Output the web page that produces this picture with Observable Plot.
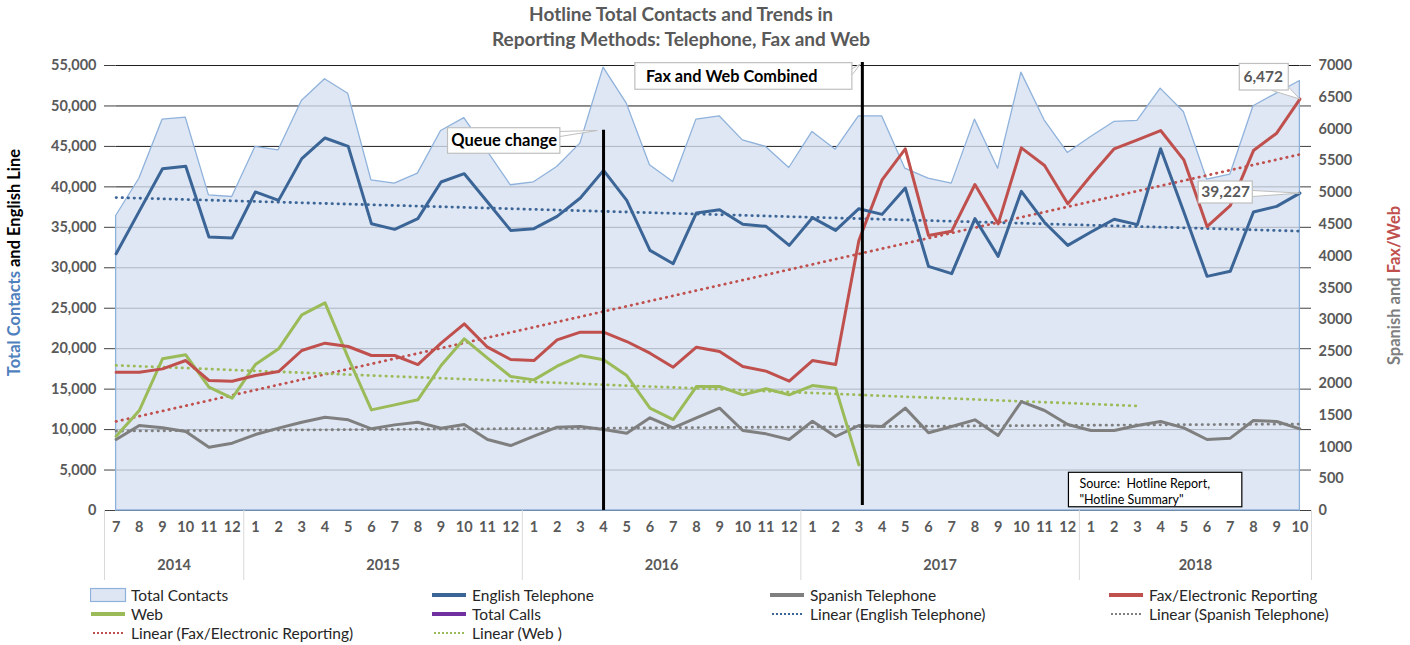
<!DOCTYPE html>
<html>
<head>
<meta charset="utf-8">
<script src="https://cdn.jsdelivr.net/npm/d3@7"></script>
<script src="https://cdn.jsdelivr.net/npm/@observablehq/plot@0.6"></script>
<style>
  html, body { margin: 0; padding: 0; background: #fff; }
  #wrap { width: 1410px; height: 645px; overflow: hidden; position: relative; font-family: Lato, "Open Sans", sans-serif; }
  #title { width: 1410px; height: 56px; box-sizing: border-box; padding: 1px 48px 0 0; text-align: center;
           font-weight: bold; font-size: 19px; line-height: 25px; color: #595959; }
  #chart svg { display: block; }
  #legend { position: relative; width: 1410px; height: 59px; }
  .li { position: absolute; display: flex; align-items: center; font-size: 15.5px; color: #262626; white-space: nowrap; }
  .li svg { margin-right: 4px; }
</style>
</head>
<body>
<div id="wrap">
  <div id="title">Hotline Total Contacts and Trends in<br>Reporting Methods: Telephone, Fax and Web</div>
  <div id="chart"></div>
  <div id="legend"></div>
</div>
<script>
// ---------- data (month index 0 = July 2014 ... 51 = October 2018) ----------
const months = [7,8,9,10,11,12, 1,2,3,4,5,6,7,8,9,10,11,12, 1,2,3,4,5,6,7,8,9,10,11,12, 1,2,3,4,5,6,7,8,9,10,11,12, 1,2,3,4,5,6,7,8,9,10];
const years = ["2014","2015","2016","2017","2018"];
const yearStart = [0, 6, 18, 30, 42];
const yearEnd   = [5, 17, 29, 41, 51];

// left axis (Total Contacts / English line)
const totalContacts = [36400, 41000, 48300, 48560, 38950, 38750, 44930, 44520, 50620, 53300,
  51500, 40800, 40400, 41630, 46900, 48500, 44400, 40200, 40560, 42460,
  45340, 54740, 50290, 42660, 40600, 48310, 48720, 45750, 44930, 42330,
  46790, 44600, 48720, 48720, 42250, 41010, 40400, 48310, 42250, 54120,
  48230, 44190, 46170, 48020, 48150, 52140, 49260, 40900, 41500, 49960, 51530, 53090];
const englishTelephone = [31740, 37000, 42250, 42540, 33800, 33680, 39370, 38330, 43490, 46040,
  45010, 35450, 34750, 36070, 40600, 41630, 38130, 34620, 34830, 36360,
  38620, 42040, 38330, 32150, 30500, 36770, 37180, 35370, 35120, 32770,
  36190, 34620, 37300, 36600, 39860, 30170, 29270, 36070, 31410, 39450,
  35600, 32770, 34420, 35990, 35330, 44720, 36900, 28940, 29560, 36890, 37590, 39227];
// right axis (Spanish / Fax / Web)
const spanishTelephone = [1117, 1337, 1300, 1243, 996, 1059, 1195, 1295, 1389, 1468,
  1426, 1285, 1347, 1389, 1295, 1353, 1117, 1022, 1169, 1311,
  1321, 1274, 1216, 1458, 1300, 1458, 1610, 1258, 1206, 1117,
  1405, 1164, 1337, 1321, 1610, 1222, 1321, 1426, 1180, 1714,
  1573, 1353, 1258, 1258, 1337, 1400, 1300, 1117, 1138, 1416, 1400, 1285];
const faxElectronic = [2176, 2176, 2228, 2359, 2045, 2034, 2123, 2186, 2517, 2632,
  2580, 2438, 2438, 2296, 2632, 2936, 2569, 2375, 2359, 2684,
  2805, 2805, 2658, 2475, 2254, 2569, 2501, 2265, 2192, 2034,
  2359, 2296, 4247, 5201, 5689, 4326, 4394, 5128, 4509, 5704,
  5427, 4824, 5269, 5689, 5830, 5977, 5516, 4467, 4797, 5662, 5935, 6472];
const web = [1169, 1573, 2386, 2449, 1940, 1767, 2296, 2543, 3078, 3266,
  2400, 1583, 1662, 1741, 2281, 2700, 2396, 2108, 2055, 2270,
  2438, 2370, 2123, 1610, 1431, 1950, 1950, 1819, 1914, 1819,
  1966, 1924, 718];

const leftTicks = d3.range(0, 55001, 5000);
const rightTicks = d3.range(0, 7001, 500);
const webTrendEnd = 44;   // Excel forecast forward 12 periods

// annotations
const queueMonth = 21, queueTop = 47000;
const faxWebMonth = 32.15, faxWebTop = 55370;
const sourceText = "Source:  Hotline Report,\n\"Hotline Summary\"";

// ---------- colours ----------
const EN = "#3c6597", ES = "#7f7f7f", FX = "#c0504d", WB = "#9bbb59", TC = "#7030a0";
const FONT = "Lato, 'Open Sans', sans-serif";

// ---------- derived tables ----------
const k = 55000 / 7000; // right-axis unit -> left-axis unit
const idx = d3.range(months.length);
const rows = idx.map(i => ({i, total: totalContacts[i], english: englishTelephone[i],
  spanish: spanishTelephone[i] * k, fax: faxElectronic[i] * k}));
const webRows = web.map((v, i) => ({i, web: v * k}));

function fit(vals) {
  const xs = d3.range(vals.length);
  const mx = d3.mean(xs), my = d3.mean(vals);
  const b = d3.sum(xs, (x, j) => (x - mx) * (vals[j] - my)) / d3.sum(xs, x => (x - mx) ** 2);
  return x => my + b * (x - mx);
}
function trend(vals, end, scale) {
  const f = fit(vals);
  return [{i: 0, v: f(0) * scale}, {i: end, v: f(end) * scale}];
}
const last = idx.length - 1;
const trendEN = trend(englishTelephone, last, 1);
const trendES = trend(spanishTelephone, last, k);
const trendFX = trend(faxElectronic, last, k);
const trendWB = trend(web, webTrendEnd, k);

const yearCenters = years.map((y, j) => (yearStart[j] + yearEnd[j]) / 2);
const yearBounds = [yearStart[0] - 0.5, ...yearEnd.map(e => e + 0.5)];

const boxes = [
  {x1: 14.30, x2: 19.14, y1: 44090, y2: 47250, stroke: "#bfbfbf"},
  {x1: 22.37, x2: 31.72, y1: 52000, y2: 55290, stroke: "#bfbfbf"},
  {x1: 48.41, x2: 50.52, y1: 51910, y2: 55190, stroke: "#bfbfbf"},
  {x1: 46.64, x2: 48.97, y1: 37945, y2: 40660, stroke: "#bfbfbf"},
  {x1: 41.05, x2: 48.52, y1: 400, y2: 4660, stroke: "#000"}
];
const tails = [
  [{x: 19.14, y: 46850}, {x: 20.73, y: 46970}, {x: 19.14, y: 46230}],
  [{x: 31.72, y: 54630}, {x: 32.07, y: 55190}, {x: 31.72, y: 53890}],
  [{x: 49.8, y: 51910}, {x: 51, y: faxElectronic[last] * k}, {x: 50.52, y: 52300}],
  [{x: 48.97, y: 39550}, {x: 51, y: englishTelephone[last]}, {x: 48.97, y: 38810}]
];

const lineOpts = {x: "i", strokeWidth: 3, strokeLinejoin: "round", strokeLinecap: "round"};
const dotOpts = {x: "i", y: "v", strokeWidth: 2.8, strokeDasharray: "0.4 5.6", strokeLinecap: "round"};

const chart = Plot.plot({
  width: 1410, height: 530,
  marginTop: 9, marginBottom: 76, marginLeft: 104, marginRight: 99,
  x: {type: "linear", domain: [-0.5, 51.5], axis: null},
  y: {domain: [0, 55000], axis: null},
  style: {fontFamily: FONT, fontSize: "14px", color: "#595959", background: "white", overflow: "visible"},
  marks: [
    // gridlines + tick marks
    Plot.ruleY(leftTicks, {x1: 0, x2: last, stroke: "#1e1e1e", strokeWidth: 1}),
    Plot.ruleY(leftTicks, {x1: -0.5, x2: 0, stroke: "#404040", strokeWidth: 1}),
    Plot.ruleY(leftTicks, {x1: last, x2: 51.5, stroke: "#404040", strokeWidth: 1}),
    // total contacts area
    Plot.areaY(rows, {x: "i", y: "total", fill: "rgb(213,224,239)", fillOpacity: 0.78,
      stroke: "#8fb2dc", strokeWidth: 1.3}),
    // trend lines
    Plot.line(trendEN, {...dotOpts, stroke: EN}),
    Plot.line(trendES, {...dotOpts, stroke: ES}),
    Plot.line(trendFX, {...dotOpts, stroke: FX}),
    Plot.line(trendWB, {...dotOpts, stroke: WB}),
    // series
    Plot.line(rows, {...lineOpts, y: "spanish", stroke: ES}),
    Plot.line(webRows, {...lineOpts, y: "web", stroke: WB}),
    Plot.line(rows, {...lineOpts, y: "fax", stroke: FX}),
    Plot.line(rows, {...lineOpts, y: "english", stroke: EN}),
    // event lines
    Plot.ruleX([queueMonth], {y1: 0, y2: queueTop, stroke: "#000", strokeWidth: 3}),
    Plot.ruleX([faxWebMonth], {y1: 620, y2: faxWebTop, stroke: "#000", strokeWidth: 3}),
    // callouts
    ...tails.map(t => Plot.line(t, {x: "x", y: "y", stroke: "#bfbfbf", strokeWidth: 1, fill: "white"})),
    Plot.rect(boxes, {x1: "x1", x2: "x2", y1: "y1", y2: "y2", fill: "white", stroke: "stroke", strokeWidth: 1.2}),
    Plot.text(["Queue change"], {x: 16.72, y: 45670, text: d => d, fontWeight: "bold", fontSize: 16.5, fill: "#000"}),
    Plot.text(["Fax and Web Combined"], {x: 22.83, y: 53640, text: d => d, textAnchor: "start", fontWeight: "bold", fontSize: 16.3, fill: "#000"}),
    Plot.text([faxElectronic[last]], {x: 49.42, y: 53520, text: d => d3.format(",")(d), fontWeight: "bold", fontSize: 15.5, fill: "#595959"}),
    Plot.text([englishTelephone[last]], {x: 47.8, y: 39300, text: d => d3.format(",")(d), fontWeight: "bold", fontSize: 15.5, fill: "#595959"}),
    Plot.text([sourceText], {x: 41.5, y: 2472, text: d => d, textAnchor: "start", fontSize: 12.5, lineHeight: 1.33, fill: "#000"}),
    // category axis
    Plot.ruleX(yearBounds, {y1: 0, y2: -8650, stroke: "#d9d9d9", strokeWidth: 1}),
    Plot.axisX(idx, {anchor: "bottom", tickSize: 0, tickPadding: 11, tickFormat: i => months[i],
      fontWeight: "bold", fontSize: 14.5, fill: "#595959", label: null}),
    Plot.axisX(yearCenters, {anchor: "bottom", tickSize: 0, tickPadding: 49,
      tickFormat: d => years[yearCenters.indexOf(d)], fontWeight: "bold", fontSize: 14.5, fill: "#595959", label: null}),
    // value axes
    Plot.axisY(leftTicks, {anchor: "left", tickSize: 0, tickPadding: 8, tickFormat: d3.format(","),
      fontWeight: "bold", fontSize: 14.5, fill: "#595959", label: null}),
    Plot.axisY(rightTicks.map(v => v * k), {anchor: "right", tickSize: 0, tickPadding: 7,
      tickFormat: d => String(Math.round(d / k)), fontWeight: "bold", fontSize: 14.5, fill: "#595959", label: null})
  ]
});
document.getElementById("chart").appendChild(chart);

// axis titles (multi-coloured)
const Y = chart.scale("y");
const svg = d3.select(chart);
const midY = (Y.apply(0) + Y.apply(55000)) / 2;
const lt = svg.append("text").attr("transform", `translate(16,${midY - 25}) rotate(-90)`)
  .attr("text-anchor", "middle").attr("dominant-baseline", "middle")
  .attr("font-family", FONT).attr("font-weight", "bold").attr("font-size", 16.5);
lt.append("tspan").attr("fill", "#4f81bd").text("Total Contacts ");
lt.append("tspan").attr("fill", "#000").text("and English Line");
const rt = svg.append("text").attr("transform", `translate(1396,${midY - 2}) rotate(-90)`)
  .attr("text-anchor", "middle").attr("dominant-baseline", "middle")
  .attr("font-family", FONT).attr("font-weight", "bold").attr("font-size", 16.5);
rt.append("tspan").attr("fill", "#7f7f7f").text("Spanish and ");
rt.append("tspan").attr("fill", FX).text("Fax/Web");

// ---------- legend ----------
const legendItems = [
  {label: "Total Contacts", type: "area", color: "rgb(221,230,242)", stroke: "#8fb2dc"},
  {label: "English Telephone", type: "line", color: EN},
  {label: "Spanish Telephone", type: "line", color: ES},
  {label: "Fax/Electronic Reporting", type: "line", color: FX},
  {label: "Web", type: "line", color: WB},
  {label: "Total Calls", type: "line", color: TC},
  {label: "Linear (English Telephone)", type: "dot", color: EN},
  {label: "Linear (Spanish Telephone)", type: "dot", color: ES},
  {label: "Linear (Fax/Electronic Reporting)", type: "dot", color: FX},
  {label: "Linear (Web )", type: "dot", color: WB}
];
const colX = [90, 431, 769, 1108];
const rowY = [0, 19, 38];
const leg = document.getElementById("legend");
legendItems.forEach((d, j) => {
  const el = document.createElement("div");
  el.className = "li";
  el.style.left = colX[j % 4] + "px";
  el.style.top = rowY[Math.floor(j / 4)] + "px";
  el.style.height = "18px";
  let sym;
  if (d.type === "area") sym = `<rect x="0.5" y="2.5" width="35" height="13" fill="${d.color}" stroke="${d.stroke}" stroke-width="1.2"/>`;
  else if (d.type === "line") sym = `<line x1="1" x2="35" y1="9" y2="9" stroke="${d.color}" stroke-width="4"/>`;
  else sym = `<line x1="3" x2="35" y1="9" y2="9" stroke="${d.color}" stroke-width="2" stroke-dasharray="2 2"/>`;
  el.innerHTML = `<svg width="37" height="18">${sym}</svg><span>${d.label}</span>`;
  leg.appendChild(el);
});
</script>
</body>
</html>
